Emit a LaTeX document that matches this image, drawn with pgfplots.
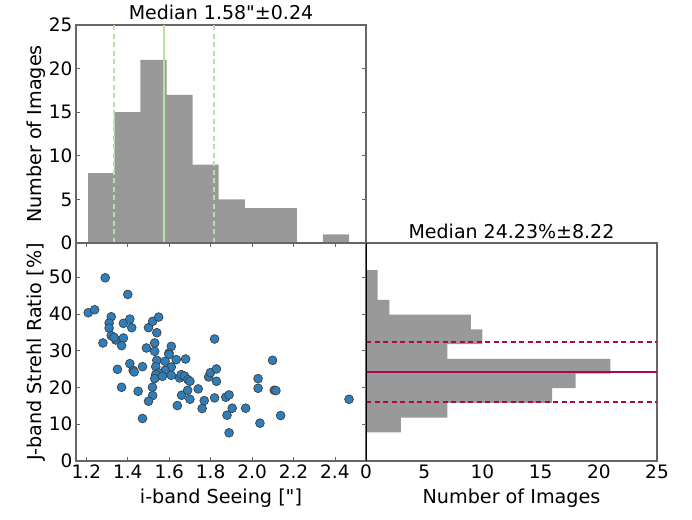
\documentclass[border=0pt]{standalone}
\usepackage{pgfplots}
\pgfplotsset{compat=1.18}
\usepackage{fontspec}
\setmainfont{DejaVu Sans}[Ligatures=TeXOff]
\definecolor{histgray}{HTML}{999999}
\definecolor{seeing}{HTML}{B8E2A0}
\definecolor{strehl}{HTML}{A6094F}
\definecolor{dot}{HTML}{2E7EBB}
\definecolor{spine}{HTML}{666666}
\pgfplotsset{
  panel/.style={
    scale only axis, anchor=south west,
    tick align=inside, major tick length=4pt,
    tick style={spine, line width=0.7pt},
    axis line style={spine, line width=1.2pt},
    /pgf/number format/assume math mode=true,
    tick label style={font=\fontsize{18.5}{20}\selectfont},
    label style={font=\fontsize{19.2}{21}\selectfont},
    title style={font=\fontsize{19}{21}\selectfont, inner sep=0pt},
  },
  bars/.style={fill=histgray, draw=none},
}
\begin{document}
\begin{tikzpicture}
\path (0pt,0pt) rectangle (692pt,519pt);

% seeing histogram
\begin{axis}[panel, at={(76pt,276pt)}, width=290pt, height=218pt,
  xmin=1.15, xmax=2.55, ymin=0, ymax=25,
  xtick=\empty, ytick={0,5,...,25},
  ylabel={Number of Images},
  ylabel style={at={(axis description cs:-0.138,0.5)},anchor=center},
  title={Median 1.58"±0.24},
  title style={at={(axis description cs:0.5,1.032)},anchor=center},
]
\addplot[bars, ybar interval] coordinates {
  (1.209,8) (1.335,15) (1.461,21) (1.587,17) (1.713,9) (1.839,5)
  (1.965,4) (2.090,4) (2.216,0) (2.342,1) (2.468,1)};
\addplot[seeing, line width=2pt] coordinates {(1.575,0) (1.575,25)};
\addplot[seeing, line width=2pt, dash pattern=on 5pt off 3.5pt] coordinates {(1.333,0) (1.333,25)};
\addplot[seeing, line width=2pt, dash pattern=on 5pt off 3.5pt] coordinates {(1.815,0) (1.815,25)};
\end{axis}

% seeing vs strehl
\begin{axis}[panel, at={(76pt,58pt)}, width=290pt, height=218pt,
  xmin=1.15, xmax=2.55, ymin=0, ymax=59.3,
  xtick={1.2,1.4,...,2.4}, ytick={0,10,...,50},
  xticklabel style={/pgf/number format/fixed,/pgf/number format/fixed zerofill,/pgf/number format/precision=1},
  xlabel={i-band Seeing ["]},
  ylabel={J-band Strehl Ratio [\%]},
  xlabel style={at={(axis description cs:0.5,-0.17)},anchor=center},
  ylabel style={at={(axis description cs:-0.138,0.5)},anchor=center},
]
\addplot[only marks, mark=*, mark size=4.4pt,
  mark options={fill=dot, draw=black!75, line width=0.7pt}] table {
1.291 49.83
1.400 45.31
1.209 40.33
1.240 41.14
1.320 39.24
1.310 37.53
1.310 36.17
1.320 34.09
1.342 32.91
1.334 33.64
1.379 33.46
1.370 31.37
1.280 32.10
1.379 37.44
1.410 38.61
1.419 36.26
1.500 36.26
1.520 37.98
1.549 39.15
1.540 34.90
1.530 32.10
1.610 31.19
1.490 30.74
1.530 29.84
1.599 29.38
1.599 28.93
1.819 33.18
1.540 27.39
1.580 27.11
1.634 27.57
1.679 27.75
1.350 24.94
1.410 26.48
1.426 24.67
1.431 24.22
1.471 25.67
1.535 25.67
1.610 25.58
1.580 24.67
1.549 23.95
1.535 23.50
1.530 22.41
1.567 23.04
1.610 23.31
1.650 22.59
1.658 23.50
1.674 23.13
1.690 22.14
1.700 21.69
1.370 20.06
1.519 20.06
1.450 18.97
1.520 17.80
1.500 16.26
1.471 11.56
1.660 17.89
1.689 19.24
1.740 19.61
1.700 16.80
1.639 15.08
1.769 16.44
1.759 14.27
1.819 17.16
1.790 22.86
1.799 24.04
1.828 25.03
1.828 21.69
2.099 27.39
2.029 22.41
2.029 19.79
2.107 19.24
2.115 19.15
1.873 17.35
1.889 17.98
1.904 14.36
1.969 14.36
1.879 12.46
2.138 12.37
2.038 10.29
1.889 7.67
2.468 16.80
};
\end{axis}

% strehl histogram
\begin{axis}[panel, at={(366pt,58pt)}, width=291pt, height=218pt,
  xmin=0, xmax=25, ymin=0, ymax=59.3,
  xtick={0,5,...,25}, ytick=\empty, major tick length=0pt,
  xlabel={Number of Images},
  xlabel style={at={(axis description cs:0.5,-0.17)},anchor=center},
  title={Median 24.23\%±8.22},
  title style={at={(axis description cs:0.5,1.027)},anchor=center},
]
\addplot[bars, xbar interval] coordinates {
  (3,7.8) (7,11.8) (16,15.8) (18,19.8) (21,23.8) (7,27.8) (10,31.8)
  (9,35.8) (2,39.8) (1,43.8) (1,47.9) (1,51.9)};
\addplot[strehl, line width=2pt] coordinates {(0,24.2) (25,24.2)};
\addplot[strehl, line width=2pt, dash pattern=on 5pt off 3.5pt] coordinates {(0,32.45) (25,32.45)};
\addplot[strehl, line width=2pt, dash pattern=on 5pt off 3.5pt] coordinates {(0,16.0) (25,16.0)};
\addplot[black, line width=1pt] coordinates {(0,0) (0,59.3)};
\end{axis}
\end{tikzpicture}
\end{document}
